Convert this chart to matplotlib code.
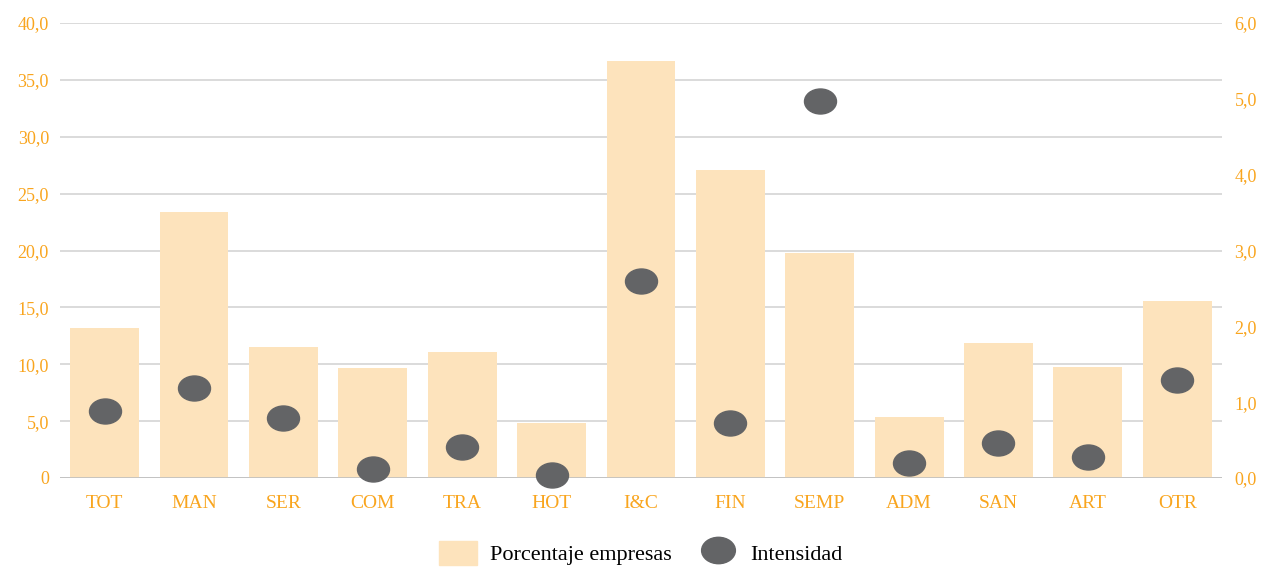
import matplotlib
matplotlib.use("Agg")
import matplotlib.pyplot as plt
from matplotlib.markers import MarkerStyle
from matplotlib.transforms import Affine2D
from matplotlib.ticker import FuncFormatter
from matplotlib.patches import Patch
from matplotlib.lines import Line2D

# Data
sectores = ['TOT', 'MAN', 'SER', 'COM', 'TRA', 'HOT', 'I&C', 'FIN', 'SEMP',
            'ADM', 'SAN', 'ART', 'OTR']
porcentaje = [13.2, 23.4, 11.5, 9.7, 11.1, 4.8, 36.7, 27.1, 19.8,
              5.4, 11.9, 9.8, 15.6]
intensidad = [0.88, 1.19, 0.79, 0.12, 0.41, 0.04, 2.60, 0.73, 4.97,
              0.20, 0.46, 0.28, 1.29]

ORANGE = '#F9A51E'
BAR = '#FDE3BC'
DOT = '#636466'
plt.rcParams['font.family'] = ['Liberation Serif', 'DejaVu Serif']


def fmt_left(v, pos):
    if v == 0:
        return '0'
    return ('%.1f' % v).replace('.', ',')


def fmt_right(v, pos):
    return ('%.1f' % v).replace('.', ',')


fig = plt.figure(figsize=(12.61, 5.67), dpi=100)
ax = fig.add_axes([0.0476, 0.157, 0.9214, 0.8024])
ax2 = ax.twinx()

x = range(len(sectores))
ax.bar(x, porcentaje, width=0.77, color=BAR, zorder=2)
ax.set_ylim(0, 40)
ax.set_yticks(range(0, 41, 5))
ax.set_xlim(-0.5, len(sectores) - 0.5)
ax.set_xticks(list(x))
ax.set_xticklabels(sectores)
ax.yaxis.set_major_formatter(FuncFormatter(fmt_left))
ax.grid(axis='y', color='#D4D4D4', linewidth=1.2, zorder=0)
ax.set_axisbelow(True)
ax.axhline(0, color='#BFBFBF', linewidth=1.2, zorder=3)

oval = MarkerStyle('o', transform=Affine2D().scale(1.28, 1.0))
ax2.plot(x, intensidad, linestyle='none', marker=oval, markersize=18,
         color=DOT, zorder=3, clip_on=False)
ax2.set_ylim(0, 6)
ax2.set_yticks(range(0, 7))
ax2.yaxis.set_major_formatter(FuncFormatter(fmt_right))

for a in (ax, ax2):
    for s in ('top', 'left', 'right', 'bottom'):
        a.spines[s].set_visible(False)
    a.tick_params(length=0, colors=ORANGE, labelsize=13)
ax.tick_params(axis='x', labelsize=14, pad=12)
ax.tick_params(axis='y', pad=8)
ax2.tick_params(axis='y', pad=9)

handles = [Patch(color=BAR, label='Porcentaje empresas'),
           Line2D([], [], linestyle='none', marker=oval, markersize=19,
                  color=DOT, label='Intensidad')]
fig.legend(handles=handles, loc='center', bbox_to_anchor=(0.508, 0.025),
           ncol=2, frameon=False, fontsize=16, handlelength=1.7,
           handleheight=1.3, columnspacing=1.2, handletextpad=0.6,
           borderpad=0.2)

fig.savefig('out.png', dpi=100)
